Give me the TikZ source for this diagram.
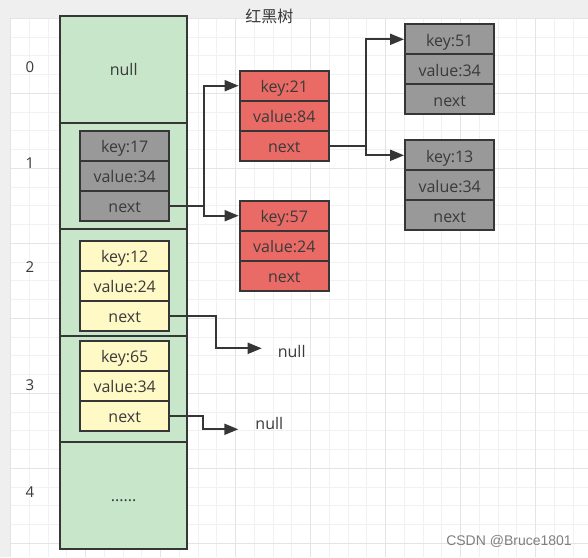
\documentclass[tikz,border=0pt]{standalone}
\usepackage{fontspec}
\setmainfont{Open Sans}
\newfontfamily\cjk{Noto Sans CJK SC}
\newfontfamily\wmfont{Liberation Sans}
\usetikzlibrary{arrows.meta}

\definecolor{linec}{HTML}{363636}
\definecolor{textc}{HTML}{3A3A3A}
\definecolor{cellgreen}{HTML}{C8E6CA}
\definecolor{redbox}{HTML}{EA6B66}
\definecolor{greybox}{HTML}{999999}
\definecolor{yellowbox}{HTML}{FFF9C6}
\definecolor{outc}{HTML}{EFEFEF}
\definecolor{gridminor}{HTML}{F1F1F1}
\definecolor{gridmajor}{HTML}{E4E4E4}

\begin{document}
\begin{tikzpicture}[x=1pt,y=-1pt,
    font=\fontsize{16}{19}\selectfont, text=textc,
    cell/.style={draw=linec,line width=2pt,fill=cellgreen,minimum width=127.3pt,minimum height=106.5pt,inner sep=0pt,text height=14pt,text depth=1pt},
    field/.style={draw=linec,line width=2pt,minimum width=89.3pt,minimum height=30pt,inner sep=0pt,text height=15pt,text depth=1pt},
    idx/.style={font=\fontsize{15}{18}\selectfont},
    link/.style={draw=linec,line width=2pt,-{Triangle[length=14pt,width=11pt]}}]
    \useasboundingbox (0,0) rectangle (588,557);

    % paper and grid
    \fill[outc] (0,0) rectangle (588,557);
    \fill[white] (10.7,18.3) rectangle (588,557);
    \foreach \i in {0,...,30}
      \draw[gridminor,line width=1pt] ({10.7+18.75*\i},18.3) -- ({10.7+18.75*\i},557);
    \foreach \j in {0,...,28}
      \draw[gridminor,line width=1pt] (10.7,{18.3+18.75*\j}) -- (588,{18.3+18.75*\j});
    \foreach \i in {0,4,...,28}
      \draw[gridmajor,line width=1.3pt] ({10.7+18.75*\i},18.3) -- ({10.7+18.75*\i},557);
    \foreach \j in {0,4,...,28}
      \draw[gridmajor,line width=1.3pt] (10.7,{18.3+18.75*\j}) -- (588,{18.3+18.75*\j});

    \node at (269.3,16) (title) {\cjk 红黑树};

    % table slots
    \node[cell] at (123.7,69.25) (c0) {null};
    \node[cell] at (123.7,175.75) (c1) {};
    \node[cell] at (123.7,282.25) (c2) {};
    \node[cell] at (123.7,388.75) (c3) {};
    \node[cell] at (123.7,495.25) (c4) {......};

    \node[idx] at (30,67) (i0) {0};
    \node[idx] at (30,163) (i1) {1};
    \node[idx] at (30,267) (i2) {2};
    \node[idx] at (30,385) (i3) {3};
    \node[idx] at (30,492) (i4) {4};

    % entries in the table
    \node[field,fill=greybox] at (124.7,145.7) (k17) {key:17};
    \node[field,fill=greybox] at (124.7,175.7) (v17) {value:34};
    \node[field,fill=greybox] at (124.7,205.7) (n17) {next};

    \node[field,fill=yellowbox] at (124.7,255.7) (k12) {key:12};
    \node[field,fill=yellowbox] at (124.7,285.7) (v12) {value:24};
    \node[field,fill=yellowbox] at (124.7,315.7) (n12) {next};

    \node[field,fill=yellowbox] at (124.7,355.7) (k65) {key:65};
    \node[field,fill=yellowbox] at (124.7,385.7) (v65) {value:34};
    \node[field,fill=yellowbox] at (124.7,415.7) (n65) {next};

    % tree nodes
    \node[field,fill=redbox] at (284.3,85.7) (k21) {key:21};
    \node[field,fill=redbox] at (284.3,115.7) (v21) {value:84};
    \node[field,fill=redbox] at (284.3,145.7) (n21) {next};

    \node[field,fill=redbox] at (284.3,215.7) (k57) {key:57};
    \node[field,fill=redbox] at (284.3,245.7) (v57) {value:24};
    \node[field,fill=redbox] at (284.3,275.7) (n57) {next};

    \node[field,fill=greybox] at (449.7,39.3) (k51) {key:51};
    \node[field,fill=greybox] at (449.7,69.3) (v51) {value:34};
    \node[field,fill=greybox] at (449.7,99.3) (n51) {next};

    \node[field,fill=greybox] at (449.7,155.3) (k13) {key:13};
    \node[field,fill=greybox] at (449.7,185.3) (v13) {value:34};
    \node[field,fill=greybox] at (449.7,215.3) (n13) {next};

    \node at (291.7,351.7) (null12) {null};
    \node at (269.3,423.3) (null65) {null};
    \coordinate (e12) at (261.7,348.3);
    \coordinate (e65) at (238.3,429.3);

    \coordinate (j17) at (204,205.7);
    \coordinate (j21) at (366,145.7);
    \coordinate (j12) at (216,315.7);
    \coordinate (j65) at (203.3,415.7);

    \draw[link] (n17) -- (j17) |- (k21);
    \draw[link] (j17) |- (k57);
    \draw[link] (n21) -- (j21) |- (k51);
    \draw[link] (j21) |- (k13);
    \draw[link] (n12) -- (j12) |- (e12);
    \draw[link] (n65) -- (j65) |- (e65);

    \node[font=\wmfont\fontsize{14}{16}\selectfont,text=gray] at (509,541.7) (mark) {CSDN @Bruce1801};
  \end{tikzpicture}
\end{document}
